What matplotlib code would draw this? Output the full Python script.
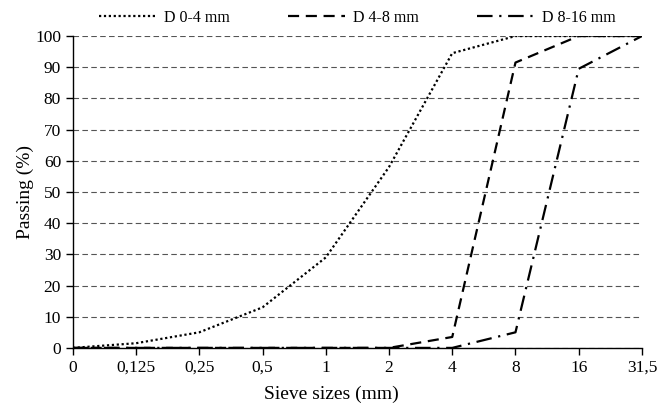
import numpy as np
import matplotlib.pyplot as plt

plt.rcParams['font.family'] = ['Liberation Serif', 'DejaVu Serif']

sieves = ['0', '0,125', '0,25', '0,5', '1', '2', '4', '8', '16', '31,5']
d_0_4 = [0, 1.5, 5, 13, 29, 58, 94.5, 100, 100, 100]
d_4_8 = [0, 0, 0, 0, 0, 0, 3.5, 91.5, 100, 100]
d_8_16 = [0, 0, 0, 0, 0, 0, 0, 5, 89.5, 100]

x = np.arange(len(sieves))

fig = plt.figure(figsize=(6.68, 4.05), dpi=100)
ax = fig.add_axes([0.109, 0.141, 0.852, 0.770])

ax.yaxis.grid(True, linestyle=(0, (5, 3)), color='#555555', linewidth=0.8)
ax.set_axisbelow(True)

ax.plot(x, d_0_4, color='black', linestyle=(0, (1, 1.2)), linewidth=1.6, label='D 0-4 mm')
ax.plot(x, d_4_8, color='black', linestyle=(0, (5, 3)), linewidth=1.6, label='D 4-8 mm')
ax.plot(x, d_8_16, color='black', linestyle=(0, (7, 3, 1, 3)), linewidth=1.6, label='D 8-16 mm')

ax.set_xlim(0, len(sieves) - 1)
ax.set_ylim(0, 100)
ax.set_xticks(x)
ax.set_xticklabels(sieves)
ax.set_yticks(range(0, 101, 10))
ax.tick_params(labelsize=12.5, direction='out', length=5, width=1, color='black')

for s in ['top', 'right']:
    ax.spines[s].set_visible(False)
for s in ['left', 'bottom']:
    ax.spines[s].set_linewidth(1)

xl = ax.set_xlabel('Sieve sizes (mm)', fontsize=14)
ax.xaxis.set_label_coords(0.455, -0.15)
xl.set_va('center')
yl = ax.set_ylabel('Passing (%)', fontsize=14)
ax.yaxis.set_label_coords(-0.084, 0.5)
yl.set_va('center')

ax.legend(loc='center', bbox_to_anchor=(0.5, 1.058), ncol=3, frameon=False,
          fontsize=11.5, handlelength=3.6, columnspacing=3.6, handletextpad=0.5,
          borderaxespad=0)

fig.savefig('out.png', dpi=100)
